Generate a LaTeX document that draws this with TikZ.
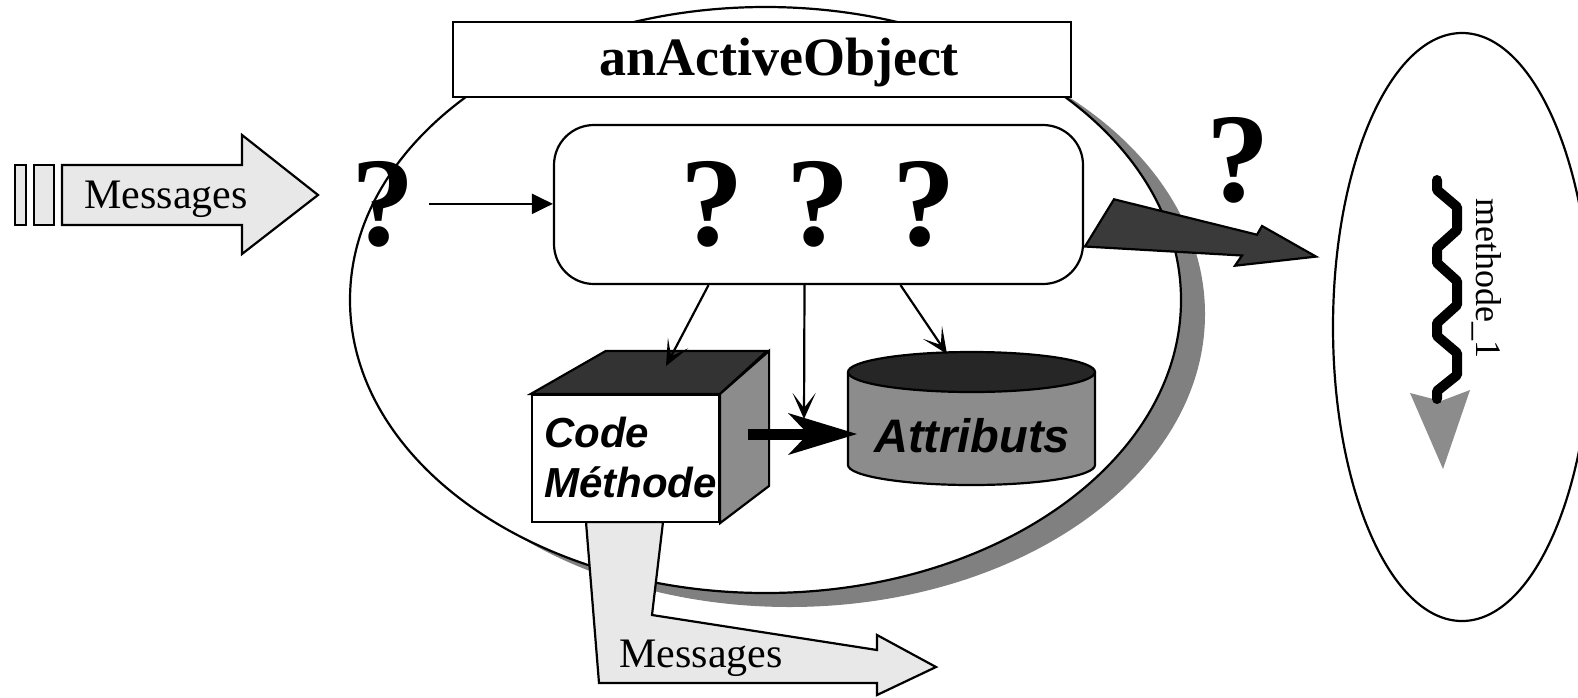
\documentclass[tikz,border=0pt]{standalone}
\usepackage{fontspec}
\setmainfont{Liberation Serif}
\setsansfont{Liberation Sans}
\usetikzlibrary{arrows.meta}
\definecolor{msggray}{HTML}{E8E8E8}
\definecolor{darkface}{HTML}{333333}
\definecolor{topface}{HTML}{262626}
\definecolor{sidegray}{HTML}{8C8C8C}
\definecolor{shadowgray}{HTML}{808080}
\definecolor{darkarrow}{HTML}{3A3A3A}

\begin{document}
\begin{tikzpicture}[x=1pt,y=-1pt,line width=2.2,%
  qmark/.style={font=\fontsize{127}{127}\selectfont\bfseries,inner sep=0},%
  msgtext/.style={font=\fontsize{42}{42}\selectfont,inner sep=0},%
  boldsans/.style={font=\fontsize{#1}{#1}\selectfont\sffamily\bfseries\itshape,inner sep=0},%
  thinarrow/.style={-{Stealth[length=26pt,width=23pt,inset=15pt]}},%
  flatarrow/.style={draw,fill=msggray,line join=miter}]
\useasboundingbox (0,0) rectangle (1578,697);
% the active object and its shadow
\fill[shadowgray] (789.5,314) ellipse [x radius=415.5, y radius=293];
\draw[fill=white] (765.5,300) ellipse [x radius=415.5, y radius=293];
\node[draw,fill=white,minimum width=618,minimum height=75,inner sep=0] (title) at (761.6,59.2) {};
\node[font=\fontsize{54}{54}\selectfont\bfseries,anchor=base,inner sep=0] (titletext) at (779,75) {anActiveObject};
% incoming messages
\draw[fill=msggray] (15,165) rectangle (26,225);
\draw[fill=msggray] (34,165) rectangle (54,225);
\draw[flatarrow] (62,165) -- (242,165) -- (242,135) -- (318,195) -- (242,254)
 -- (242,225) -- (62,225) -- cycle;
\node[msgtext,anchor=base] (msgin) at (166,208) {Messages};
\node[qmark,anchor=base] (qin) at (383,245) {?};
\node[draw,fill=white,rounded corners=40,minimum width=529,minimum height=159,qmark] (qbox) at (818.5,204.5) {? ? ?};
\draw[-{Triangle[length=21pt,width=20pt]}] ([xshift=13]qin.east) -- (qin.east -| qbox.west);
% outgoing messages
\draw[flatarrow] (586,522) -- (663,522) -- (652,615) -- (877,650) -- (877,635)
 -- (936,667) -- (877,695) -- (877,683) -- (599,683) -- cycle;
\node[msgtext,anchor=base] (msgout) at (701,667) {Messages};
% method code cube
\node[draw,fill=white,minimum width=187,minimum height=127,inner sep=0] (cube) at (625.5,458.5) {};
\draw[fill=darkface] (cube.north west) -- ++(75,-43) -- ++(161,0) -- (cube.north east) -- cycle;
\draw[fill=sidegray] (cube.north east) -- ++(49,-43) -- ++(0,135) -- (cube.south east) -- cycle;
\node[boldsans=42,anchor=base west] (codet) at (543,447) {Code};
\node[boldsans=42,anchor=base west] (methodet) at (543,497) {Méthode};
% attributes cylinder
\draw[fill=sidegray] (848,372) -- (848,465) arc [start angle=180, end angle=0, x radius=123.5, y radius=20] -- (1095,372);
\draw[fill=topface] (971.5,372) ellipse [x radius=123.5, y radius=20];
\node[boldsans=47,anchor=base] (attr) at (972,452) {Attributs};
% arrows inside the object
\coordinate (cubeside) at (748,434);
\coordinate (cylside) at (857,434);
\coordinate (cubetop) at (666,366);
\coordinate (cyltop) at (947,354);
\coordinate (shaftmid) at (804,419);
\draw[line width=11,-{Stealth[length=69pt,width=42pt,inset=20pt,line width=0pt]}] (cubeside) -- (cylside);
\draw[thinarrow] ([xshift=-110]qbox.south) -- (cubetop);
\draw[thinarrow] ([xshift=-14]qbox.south) -- (shaftmid);
\draw[thinarrow] ([xshift=82]qbox.south) -- (cyltop);
% call to the thread
\draw[fill=darkarrow,line join=miter] (1085,246.5) -- (1114,199.3) -- (1257,234.7) -- (1262,226)
 -- (1316,256.6) -- (1235,265.7) -- (1242,255.5) -- cycle;
\node[qmark,anchor=base] (qout) at (1238,201) {?};
\draw (1462,327) ellipse [x radius=129, y radius=294];
\fill[sidegray] (1410,393) -- (1441,401) -- (1470,390) -- (1443,469) -- cycle;
\draw[line width=10,line cap=round,line join=bevel] (1437,180) -- (1437,190) -- (1457,207) -- (1457,230)
 -- (1437,248) -- (1437,263) -- (1457,281) -- (1457,305) -- (1437,323) -- (1437,336)
 -- (1457,353) -- (1457,375) -- (1437,391) -- (1437,399);
\node[font=\fontsize{36}{36}\selectfont,inner sep=0,rotate=-90,anchor=base] (meth) at (1476,278) {methode\_1};
\end{tikzpicture}
\end{document}
